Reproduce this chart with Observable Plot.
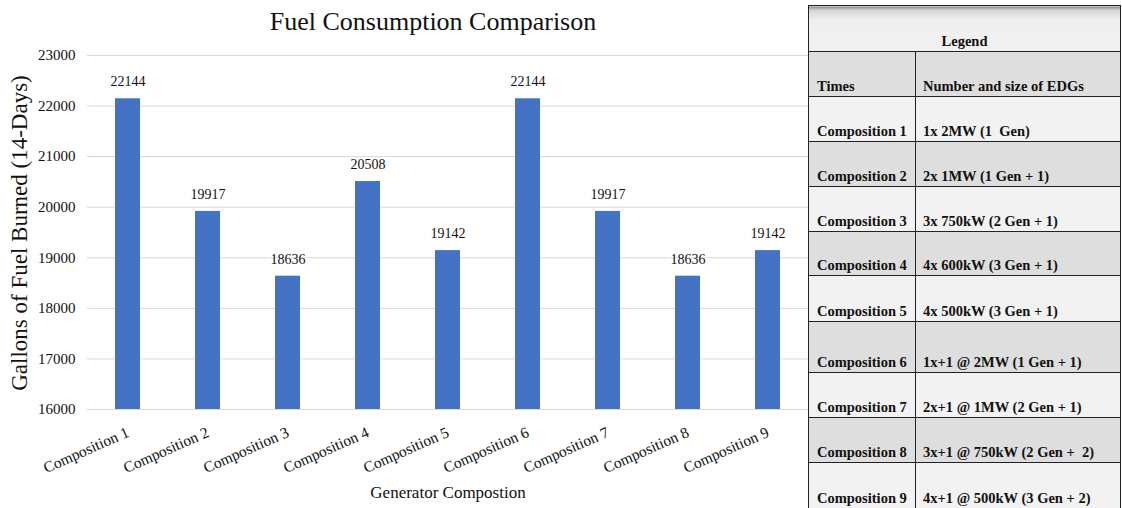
<!DOCTYPE html>
<html>
<head>
<meta charset="utf-8">
<script src="https://cdn.jsdelivr.net/npm/d3@7"></script>
<script src="https://cdn.jsdelivr.net/npm/@observablehq/plot@0.6"></script>
<style>
  html, body { margin: 0; padding: 0; background: #fff; }
  #wrap { position: relative; width: 1122px; height: 508px; overflow: hidden; font-family: "Liberation Serif", "Times New Roman", serif; }
  #title { position: absolute; left: 0; width: 866px; top: 7px; text-align: center; font-size: 26px; color: #111; }
  #ylab { position: absolute; left: 20px; top: 233px; transform: translate(-50%, -50%) rotate(-90deg); white-space: nowrap; font-size: 23px; color: #111; }
  #xlab { position: absolute; left: 448px; top: 483px; transform: translateX(-50%); white-space: nowrap; font-size: 17px; color: #111; }
  #chart { position: absolute; left: 0; top: 0; }
  #legend { position: absolute; left: 808px; top: 5px; border-collapse: collapse; font-family: "Liberation Serif", "Times New Roman", serif; font-weight: bold; font-size: 14.5px; color: #111; }
  #legend td { border: 1.5px solid #222; padding: 0 0 1px 8px; vertical-align: bottom; white-space: pre; }
  #legend td.c1 { width: 98px; }
  #legend td.c2 { width: 197px; padding-left: 7px; }
  #legend tr.head td { text-align: center; background: linear-gradient(#8a8a8a 0px, #d8d8d8 4px, #efefef 14px, #f0f0f0 100%); padding-left: 0; }
  #legend tr.light td { background: #f2f2f2; }
  #legend tr.dark td { background: #dedede; }
</style>
</head>
<body>
<div id="wrap">
  <div id="chart"></div>
  <div id="title">Fuel Consumption Comparison</div>
  <div id="ylab">Gallons of Fuel Burned (14-Days)</div>
  <div id="xlab">Generator Compostion</div>
  <table id="legend"></table>
</div>
<script>
const categories = ["Composition 1","Composition 2","Composition 3","Composition 4","Composition 5","Composition 6","Composition 7","Composition 8","Composition 9"];
const gallons = [22144, 19917, 18636, 20508, 19142, 22144, 19917, 18636, 19142];
const yTicks = [16000, 17000, 18000, 19000, 20000, 21000, 22000, 23000];
const legendTitle = "Legend";
const legendHeaders = ["Times", "Number and size of EDGs"];
const legendSizes = ["1x 2MW (1  Gen)", "2x 1MW (1 Gen + 1)", "3x 750kW (2 Gen + 1)", "4x 600kW (3 Gen + 1)", "4x 500kW (3 Gen + 1)", "1x+1 @ 2MW (1 Gen + 1)", "2x+1 @ 1MW (2 Gen + 1)", "3x+1 @ 750kW (2 Gen +  2)", "4x+1 @ 500kW (3 Gen + 2)"];

const data = categories.map((c, i) => ({category: c, value: gallons[i]}));
const font = "Liberation Serif, Times New Roman, serif";

const chart = Plot.plot({
  width: 808,
  height: 508,
  marginTop: 55,
  marginBottom: 99,
  marginLeft: 87,
  marginRight: 0,
  style: {fontFamily: font, fontSize: "15px", color: "#111", background: "transparent"},
  x: {domain: categories, paddingInner: 0.69, paddingOuter: 0.345, label: null},
  y: {domain: [16000, 23000], label: null},
  marks: [
    Plot.gridY(yTicks, {stroke: "#d9d9d9", strokeOpacity: 1, strokeWidth: 1}),
    Plot.barY(data, {x: "category", y1: 16000, y2: "value", fill: "#4472C4"}),
    Plot.text(data, {x: "category", y: "value", text: d => String(d.value), dy: -17, fontSize: 14, fill: "#111"}),
    Plot.axisY(yTicks, {tickSize: 0, tickPadding: 12, tickFormat: d3.format("d"), fontSize: 15, label: null}),
    Plot.axisX({tickSize: 0, tickPadding: 22, tickRotate: -24, fontSize: 15.5, label: null})
  ]
});
document.getElementById("chart").appendChild(chart);

// legend table
const table = document.getElementById("legend");
const rowHeights = [46, 45, 45, 45, 45, 44, 46, 51, 45, 45, 46];
let tr = document.createElement("tr");
tr.className = "head";
tr.style.height = rowHeights[0] + "px";
let td = document.createElement("td");
td.colSpan = 2; td.textContent = legendTitle;
tr.appendChild(td); table.appendChild(tr);

tr = document.createElement("tr");
tr.className = "dark";
tr.style.height = rowHeights[1] + "px";
legendHeaders.forEach((h, j) => { const c = document.createElement("td"); c.className = j ? "c2" : "c1"; c.textContent = h; tr.appendChild(c); });
table.appendChild(tr);

categories.forEach((cat, i) => {
  const r = document.createElement("tr");
  r.className = i % 2 === 0 ? "light" : "dark";
  r.style.height = rowHeights[i + 2] + "px";
  const a = document.createElement("td"); a.className = "c1"; a.textContent = cat;
  const b = document.createElement("td"); b.className = "c2"; b.textContent = legendSizes[i];
  r.appendChild(a); r.appendChild(b); table.appendChild(r);
});
</script>
</body>
</html>
